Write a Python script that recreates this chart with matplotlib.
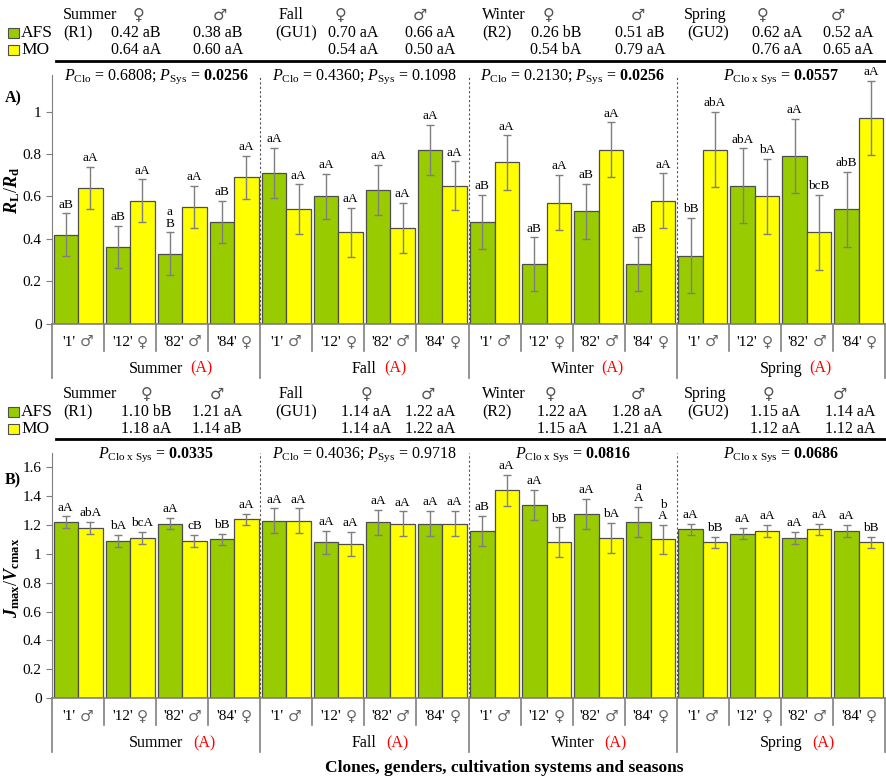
import matplotlib
matplotlib.use("Agg")
import matplotlib.pyplot as plt
from matplotlib import transforms
from matplotlib.patches import Rectangle
from matplotlib.lines import Line2D
from matplotlib.offsetbox import TextArea, HPacker, AnnotationBbox

plt.rcParams['font.family'] = ['Liberation Serif', 'DejaVu Sans']
plt.rcParams['mathtext.fontset'] = 'custom'
plt.rcParams['mathtext.rm'] = 'Liberation Serif'
plt.rcParams['mathtext.it'] = 'Liberation Serif:italic'
plt.rcParams['mathtext.bf'] = 'Liberation Serif:bold'
plt.rcParams['mathtext.bfit'] = 'Liberation Serif:italic:bold'

GREEN = "#99cc00"
YELLOW = "#ffff00"

seasons = ["Summer", "Fall", "Winter", "Spring"]
season_codes = ["(R1)", "(GU1)", "(R2)", "(GU2)"]
clone_names = ["'1'", "'12'", "'82'", "'84'"]
clone_sex = ["\u2642", "\u2640", "\u2642", "\u2640"]

# panel A: RL/Rd
rl_afs = [0.42, 0.36, 0.33, 0.48, 0.71, 0.60, 0.63, 0.82,
          0.48, 0.28, 0.53, 0.28, 0.32, 0.65, 0.79, 0.54]
rl_mo = [0.64, 0.58, 0.55, 0.69, 0.54, 0.43, 0.45, 0.65,
         0.76, 0.57, 0.82, 0.58, 0.82, 0.60, 0.43, 0.97]
rl_err_afs = [0.10, 0.10, 0.10, 0.10, 0.118, 0.106, 0.118, 0.117,
              0.128, 0.127, 0.129, 0.127, 0.177, 0.176, 0.176, 0.177]
rl_err_mo = [0.10, 0.10, 0.10, 0.10, 0.117, 0.117, 0.118, 0.115,
             0.128, 0.13, 0.129, 0.129, 0.177, 0.177, 0.177, 0.176]
rl_lab_afs = ["aB", "aB", "a\nB", "aB", "aA", "aA", "aA", "aA",
              "aB", "aB", "aB", "aB", "bB", "abA", "aA", "abB"]
rl_lab_mo = ["aA", "aA", "aA", "aA", "aA", "aA", "aA", "aA",
             "aA", "aA", "aA", "aA", "abA", "bA", "bcB", "aA"]
rl_p = [r"$P_{\mathrm{Clo}}$ = 0.6808; $P_{\mathrm{Sys}}$ = $\mathbf{0.0256}$",
        r"$P_{\mathrm{Clo}}$ = 0.4360; $P_{\mathrm{Sys}}$ = 0.1098",
        r"$P_{\mathrm{Clo}}$ = 0.2130; $P_{\mathrm{Sys}}$ = $\mathbf{0.0256}$",
        r"$P_{\mathrm{Clo\ x\ Sys}}$ = $\mathbf{0.0557}$"]
rl_head_afs_f = ["0.42 aB", "0.70 aA", "0.26 bB", "0.62 aA"]
rl_head_afs_m = ["0.38 aB", "0.66 aA", "0.51 aB", "0.52 aA"]
rl_head_mo_f = ["0.64 aA", "0.54 aA", "0.54 bA", "0.76 aA"]
rl_head_mo_m = ["0.60 aA", "0.50 aA", "0.79 aA", "0.65 aA"]

# panel B: Jmax/Vcmax
jv_afs = [1.22, 1.09, 1.21, 1.10, 1.23, 1.08, 1.22, 1.21,
          1.16, 1.34, 1.28, 1.22, 1.17, 1.14, 1.11, 1.16]
jv_mo = [1.18, 1.11, 1.09, 1.24, 1.23, 1.07, 1.21, 1.21,
         1.44, 1.08, 1.11, 1.10, 1.08, 1.16, 1.17, 1.08]
jv_err_afs = [0.04, 0.04, 0.04, 0.04, 0.086, 0.08, 0.087, 0.086,
              0.106, 0.103, 0.104, 0.105, 0.04, 0.04, 0.04, 0.04]
jv_err_mo = [0.04, 0.04, 0.04, 0.04, 0.086, 0.085, 0.085, 0.088,
             0.106, 0.104, 0.104, 0.10, 0.04, 0.04, 0.04, 0.04]
jv_lab_afs = ["aA", "bA", "aA", "bB", "aA", "aA", "aA", "aA",
              "aB", "aA", "aA", "a\nA", "aA", "aA", "aA", "aA"]
jv_lab_mo = ["abA", "bcA", "cB", "aA", "aA", "aA", "aA", "aA",
             "aA", "bB", "bA", "b\nA", "bB", "aA", "aA", "bB"]
jv_p = [r"$P_{\mathrm{Clo\ x\ Sys}}$ = $\mathbf{0.0335}$",
        r"$P_{\mathrm{Clo}}$ = 0.4036; $P_{\mathrm{Sys}}$ = 0.9718",
        r"$P_{\mathrm{Clo\ x\ Sys}}$ = $\mathbf{0.0816}$",
        r"$P_{\mathrm{Clo\ x\ Sys}}$ = $\mathbf{0.0686}$"]
jv_head_afs_f = ["1.10 bB", "1.14 aA", "1.22 aA", "1.15 aA"]
jv_head_afs_m = ["1.21 aA", "1.22 aA", "1.28 aA", "1.14 aA"]
jv_head_mo_f = ["1.18 aA", "1.14 aA", "1.15 aA", "1.12 aA"]
jv_head_mo_m = ["1.14 aB", "1.22 aA", "1.21 aA", "1.12 aA"]

W, H = 886, 779
fig = plt.figure(figsize=(W / 100, H / 100), dpi=100)


def fx(x):
    return x / W


def fy(y):
    return 1 - y / H


def draw_panel(top, base, ymax, yticks, afs, mo, e_afs, e_mo, l_afs, l_mo, ptexts, agap):
    ax = fig.add_axes([fx(52), fy(base), fx(885) - fx(52), (base - top) / H])
    n = len(afs)
    xa = [i + 0.265 for i in range(n)]
    xm = [i + 0.735 for i in range(n)]
    ekw = dict(ecolor="#7f7f7f", elinewidth=1, capsize=3, capthick=1)
    ax.bar(xa, afs, 0.47, color=GREEN, edgecolor="#4d4d4d", linewidth=0.9,
           yerr=e_afs, error_kw=ekw, zorder=2)
    ax.bar(xm, mo, 0.47, color=YELLOW, edgecolor="#4d4d4d", linewidth=0.9,
           yerr=e_mo, error_kw=ekw, zorder=2)
    for x, v, e, s in zip(xa + xm, afs + mo, e_afs + e_mo, l_afs + l_mo):
        ax.annotate(s, (x, v + e), xytext=(0, 2), textcoords="offset points",
                    ha="center", va="bottom", fontsize=9.5, linespacing=0.95)
    ax.set_xlim(0, n)
    ax.set_ylim(0, ymax)
    ax.set_yticks(yticks)
    ax.set_yticklabels(["%g" % t for t in yticks])
    ax.set_xticks([])
    ax.tick_params(axis="y", labelsize=11, length=4, color="#7f7f7f")
    for s in ["top", "right"]:
        ax.spines[s].set_visible(False)
    ax.spines["left"].set_color("#7f7f7f")
    ax.spines["bottom"].set_color("#7f7f7f")
    ax.spines["bottom"].set_linewidth(1.2)
    for k in range(1, 4):
        ax.axvline(4 * k, color="#555555", lw=0.8, ls=(0, (2, 2)), zorder=1)
    # category labels below the axis
    trans = transforms.blended_transform_factory(ax.transData, fig.transFigure)
    for k in range(n + 1):
        end = base + (54 if k % 4 == 0 else 27)
        fig.add_artist(Line2D([k, k], [fy(base), fy(end)], transform=trans,
                              color="#808080", lw=1.2))
    for i in range(n):
        box = HPacker(children=[
            TextArea(clone_names[i % 4], textprops=dict(fontsize=11)),
            TextArea(clone_sex[i % 4], textprops=dict(fontsize=11, color="#666666",
                                                       family="DejaVu Sans"))],
            align="baseline", pad=0, sep=3)
        ax.add_artist(AnnotationBbox(box, (i + 0.5, fy(base + 18)), xycoords=trans,
                                     frameon=False, box_alignment=(0.5, 0.5),
                                     annotation_clip=False))
    for j, name in enumerate(seasons):
        c = 4 * j + 2
        t = ax.text(c, fy(base + 45), name, transform=trans,
                    ha="center", va="center", fontsize=11.5)
        ax.annotate("(A)", xy=(1, 0.5), xycoords=t, xytext=(agap, 0),
                    textcoords="offset points", ha="left", va="center",
                    fontsize=11.5, color="red")
        ax.text(c, fy(top + 1.5), ptexts[j], transform=trans,
                ha="center", va="center", fontsize=11.5)
    return ax


def draw_header(rows, line_y, fem_x, mal_x, fval_x, mval_x, afs_f, afs_m, mo_f, mo_m):
    name_x = [63, 279, 482, 684]
    code_x = [63, 275, 482, 687]
    for j in range(4):
        fig.text(fx(name_x[j]), fy(rows[0]), seasons[j], ha="left", va="center", fontsize=11.5)
        fig.text(fx(code_x[j]), fy(rows[1]), season_codes[j], ha="left", va="center", fontsize=11.5)
        fig.text(fx(fem_x[j]), fy(rows[0]), "\u2640", ha="center", va="center",
                 fontsize=11.5, color="#555555", family="DejaVu Sans")
        fig.text(fx(mal_x[j]), fy(rows[0]), "\u2642", ha="center", va="center",
                 fontsize=11.5, color="#555555", family="DejaVu Sans")
        fig.text(fx(fval_x[j]), fy(rows[1]), afs_f[j], ha="center", va="center", fontsize=11.5)
        fig.text(fx(mval_x[j]), fy(rows[1]), afs_m[j], ha="center", va="center", fontsize=11.5)
        fig.text(fx(fval_x[j]), fy(rows[2]), mo_f[j], ha="center", va="center", fontsize=11.5)
        fig.text(fx(mval_x[j]), fy(rows[2]), mo_m[j], ha="center", va="center", fontsize=11.5)
    for y, col, lab in [(rows[1], GREEN, "AFS"), (rows[2], YELLOW, "MO")]:
        fig.add_artist(Rectangle((fx(8), fy(y + 5)), fx(11), 10 / H, facecolor=col,
                                 edgecolor="#4d4d4d", lw=0.8, transform=fig.transFigure))
        fig.text(fx(21), fy(y), lab, ha="left", va="center", fontsize=12.5)
    fig.add_artist(Line2D([fx(56), fx(885)], [fy(line_y), fy(line_y)],
                          transform=fig.transFigure, color="black", lw=2))


axA = draw_panel(75, 323.6, 1.1726, [0, 0.2, 0.4, 0.6, 0.8, 1],
                 rl_afs, rl_mo, rl_err_afs, rl_err_mo, rl_lab_afs, rl_lab_mo, rl_p, 5)
axB = draw_panel(453, 698, 1.70, [0, 0.2, 0.4, 0.6, 0.8, 1, 1.2, 1.4, 1.6],
                 jv_afs, jv_mo, jv_err_afs, jv_err_mo, jv_lab_afs, jv_lab_mo, jv_p, 7)

draw_header([15, 33, 50], 61, [138, 340, 548, 762], [220, 420, 638, 838],
            [136, 353, 556, 777], [218, 430, 640, 848],
            rl_head_afs_f, rl_head_afs_m, rl_head_mo_f, rl_head_mo_m)
draw_header([394, 412, 429], 439, [147, 367, 551, 768], [217, 428, 638, 840],
            [146, 366, 562, 775], [217, 430, 637, 850],
            jv_head_afs_f, jv_head_afs_m, jv_head_mo_f, jv_head_mo_m)

fig.text(fx(5), fy(98), "A)", ha="left", va="center", fontsize=11.5, fontweight="bold")
fig.text(fx(5), fy(480), "B)", ha="left", va="center", fontsize=11.5, fontweight="bold")
fig.text(fx(12), fy(190), r"$\mathbfit{R}_{\mathbf{L}}/\mathbfit{R}_{\mathbf{d}}$",
         rotation=90, ha="center", va="center", fontsize=13)
fig.text(fx(12), fy(578), r"$\mathbfit{J}_{\mathbf{max}}/\mathbfit{V}_{\mathbf{cmax}}$",
         rotation=90, ha="center", va="center", fontsize=13)
fig.text(fx(504), fy(768), "Clones, genders, cultivation systems and seasons",
         ha="center", va="center", fontsize=12.5, fontweight="bold")

fig.savefig("out.png", dpi=100)
